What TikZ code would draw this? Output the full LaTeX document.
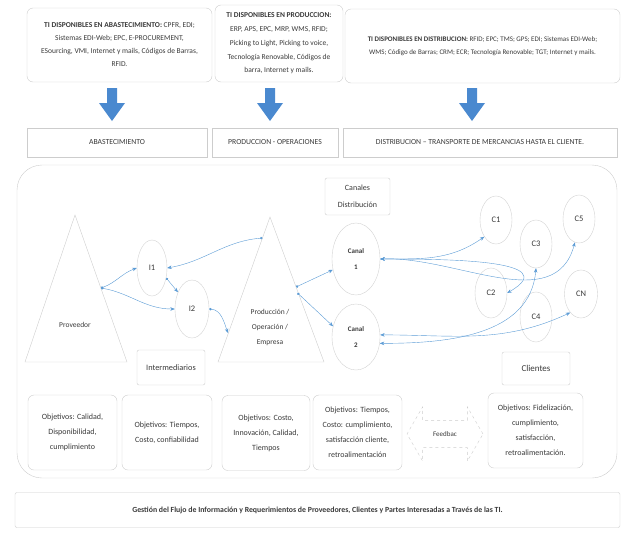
\documentclass[tikz,border=0pt]{standalone}
\usepackage{fontspec}
\setmainfont{Carlito}
\usetikzlibrary{arrows.meta}
\usetikzlibrary{shapes.geometric}
\usetikzlibrary{shapes.arrows}

\definecolor{lineablue}{HTML}{5B9BD5}
\definecolor{flechablue}{HTML}{4A89CF}
\definecolor{bordegris}{HTML}{CDCDCD}
\definecolor{textogris}{HTML}{3A3A3A}

\begin{document}
\begin{tikzpicture}[x=1pt, y=-1pt, font=\fontsize{7.5}{13}\selectfont, text=textogris,
  caja/.style={draw=bordegris, rounded corners=6pt, fill=white, align=center, inner sep=1pt},
  etapa/.style={draw=bordegris, fill=white, align=center, minimum height=29pt, inner sep=1pt,
    font=\fontsize{7.7}{9}\selectfont},
  elipse/.style={draw=gray!35, ellipse, inner sep=0pt, font=\fontsize{8.5}{10}\selectfont},
  objetivo/.style={caja, minimum height=75pt, font=\fontsize{8}{15}\selectfont},
  enlace/.style={draw=lineablue, thin, {Circle[length=2.5pt]}-{Stealth[length=4.5pt,width=3.5pt]}},
  enlace2/.style={draw=lineablue, thin, {Stealth[length=4.5pt,width=3.5pt]}-{Stealth[length=4.5pt,width=3.5pt]}},
  triangulo/.style={draw=bordegris}]

\useasboundingbox (0,0) rectangle (623,533);

% TI por etapa
\node[caja, minimum width=185pt, minimum height=74pt] (ti-abast) at (119.5,45)
  {\textbf{TI DISPONIBLES EN ABASTECIMIENTO:} CPFR, EDI;\\ Sistemas EDI-Web; EPC, E-PROCUREMENT,\\ ESourcing, VMI, Internet y mails, Códigos de Barras,\\ RFID.};
\node[caja, minimum width=128pt, minimum height=77pt, font=\fontsize{7.5}{13.7}\selectfont] (ti-prod) at (279,43.5)
  {\textbf{TI DISPONIBLES EN PRODUCCION:}\\ ERP, APS, EPC, MRP, WMS, RFID;\\ Picking to Light, Picking to voice,\\ Tecnología Renovable, Códigos de\\ barra, Internet y mails.};
\node[caja, minimum width=275pt, minimum height=74pt, font=\fontsize{7}{13}\selectfont] (ti-dist) at (482.5,46)
  {\textbf{TI DISPONIBLES EN DISTRIBUCION:} RFID; EPC; TMS; GPS; EDI; Sistemas EDI-Web;\\ WMS; Código de Barras; CRM; ECR; Tecnología Renovable; TGT; Internet y mails.};

% flechas hacia las etapas
\foreach \x in {112,270,472}
  \fill[flechablue] (\x-5,88) -- (\x+5,88) -- (\x+5,103) -- (\x+13,103) -- (\x,121)
    -- (\x-13,103) -- (\x-5,103) -- cycle;

% etapas
\node[etapa, minimum width=180pt] (abast) at (117,142.5) {ABASTECIMIENTO};
\node[etapa, minimum width=126pt] (prodop) at (275,142.5) {PRODUCCION - OPERACIONES};
\node[etapa, minimum width=274pt] (dist) at (480,142.5) {DISTRIBUCION – TRANSPORTE DE MERCANCIAS HASTA EL CLIENTE.};

% contenedor de la cadena
\draw[draw=bordegris, rounded corners=25pt] (17,165) rectangle (617,478);

% proveedor
\draw[triangulo] (75,215) -- (127,362) -- (25,362) -- cycle;
\node (prov) at (75,325) {Proveedor};
\coordinate (prov-p) at (101,288);

% produccion
\draw[triangulo] (270,217) -- (324,362) -- (218,362) -- cycle;
\node[align=center, font=\fontsize{7.5}{15}\selectfont] (prod) at (270,327) {Producción /\\ Operación /\\ Empresa};
\coordinate (prod-a) at (262.5,238);
\coordinate (prod-b) at (296,287);
\coordinate (prod-c) at (297.5,293);
\coordinate (prod-in) at (228,333);

% intermediarios
\node[elipse, minimum width=30pt, minimum height=56pt] (I1) at (152,268) {I1};
\node[elipse, minimum width=34pt, minimum height=58pt] (I2) at (192,309) {I2};
\node[caja, rounded corners=2pt, minimum width=68pt, minimum height=35pt, font=\fontsize{8.3}{10}\selectfont] (interm) at (171,367.5) {Intermediarios};

\draw[enlace] (prov-p) to[out=20, in=200] (I1.west);
\draw[enlace] (prov-p) to[out=-10, in=180] (I2.west);
\draw[enlace] (prod-a) to[out=185, in=10] (I1.east);
\draw[enlace] (I1.-35) -- (I2.130);
\draw[enlace] (I2.east) to[out=-5, in=110] (prod-in);

% canales
\node[caja, rounded corners=2pt, minimum width=65pt, minimum height=37pt, font=\fontsize{8}{17}\selectfont] (canales) at (357.5,196.5) {Canales\\ Distribución};
\node[elipse, minimum width=48pt, minimum height=72pt, align=center, font=\bfseries\fontsize{7}{16}\selectfont] (canal1) at (356,259) {Canal\\ 1};
\node[elipse, minimum width=48pt, minimum height=66pt, align=center, font=\bfseries\fontsize{7}{16}\selectfont] (canal2) at (356,337) {Canal\\ 2};

\draw[enlace] (prod-b) -- (canal1.205);
\draw[enlace] (prod-c) -- (canal2.155);

% clientes
\node[elipse, minimum width=32pt, minimum height=48pt] (C1) at (496,220) {C1};
\node[elipse, minimum width=32pt, minimum height=48pt] (C3) at (536,244) {C3};
\node[elipse, minimum width=32pt, minimum height=48pt] (C5) at (579,219) {C5};
\node[elipse, minimum width=32pt, minimum height=50pt] (C2) at (491,293) {C2};
\node[elipse, minimum width=32pt, minimum height=50pt] (C4) at (536,317) {C4};
\node[elipse, minimum width=33pt, minimum height=48pt] (CN) at (581,294) {CN};
\node[caja, rounded corners=2pt, minimum width=68pt, minimum height=33pt, font=\fontsize{9}{10}\selectfont] (clientes) at (536,368.5) {Clientes};

\draw[enlace2] (canal1.east) to[out=0, in=215] (C1.235);
\draw[enlace2] (canal1.east) to[out=2, in=255] (C5.260);
\draw[enlace2] (canal1.east) to[out=0, in=30, looseness=1.3] (C2.east);
\draw[enlace2] (canal2.5) to[out=0, in=205] (CN.240);
\draw[enlace2] (canal2.-15) to[out=0, in=265] (C3.south);

% objetivos
\node[objetivo, minimum width=89pt] (obj-prov) at (72.5,432.5) {Objetivos: Calidad,\\ Disponibilidad,\\ cumplimiento};
\node[objetivo, minimum width=90pt] (obj-int) at (167,432.5) {Objetivos: Tiempos,\\ Costo, confiabilidad};
\node[objetivo, minimum width=88pt] (obj-prod) at (266,433) {Objetivos: Costo,\\ Innovación, Calidad,\\ Tiempos};
\node[objetivo, minimum width=89pt] (obj-canal) at (357.5,432.5) {Objetivos: Tiempos,\\ Costo: cumplimiento,\\ satisfacción cliente,\\ retroalimentación};
\node[objetivo, minimum width=95pt] (obj-cli) at (535.5,430.5) {Objetivos: Fidelización,\\ cumplimiento,\\ satisfacción,\\ retroalimentación.};

% feedback
\node[double arrow, draw=bordegris, dashed, inner xsep=2pt, inner ysep=11pt, minimum height=76pt,
  double arrow head extend=13.5pt, double arrow tip angle=120, font=\fontsize{7}{8}\selectfont] (feedback) at (445,434) {Feedbac};

% gestion de la informacion
\node[caja, rounded corners=2pt, minimum width=605pt, minimum height=35pt, font=\bfseries\fontsize{7.8}{9}\selectfont] (gestion) at (317.5,510)
  {Gestión del Flujo de Información y Requerimientos de Proveedores, Clientes y Partes Interesadas a Través de las TI.};
\end{tikzpicture}
\end{document}
